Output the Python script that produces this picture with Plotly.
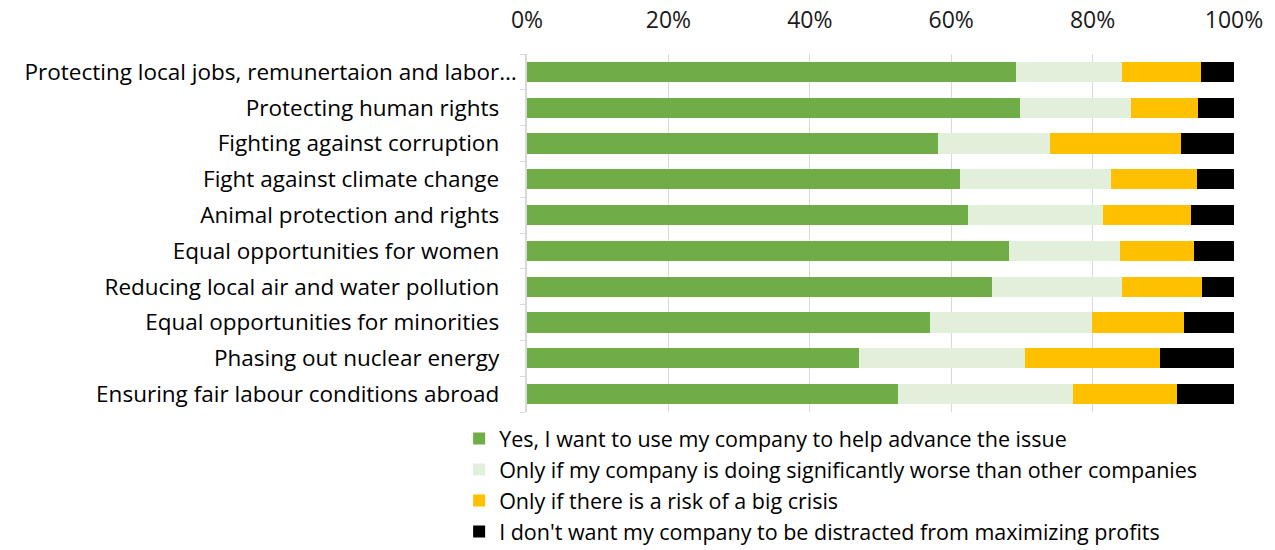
import plotly.graph_objects as go

categories = [
    "Protecting local jobs, remunertaion and labor…",
    "Protecting human rights",
    "Fighting against corruption",
    "Fight against climate change",
    "Animal protection and rights",
    "Equal opportunities for women",
    "Reducing local air and water pollution",
    "Equal opportunities for minorities",
    "Phasing out nuclear energy",
    "Ensuring fair labour conditions abroad",
]

yes_advance = [69.1, 69.7, 58.1, 61.2, 62.4, 68.2, 65.8, 57.0, 47.0, 52.5]
only_worse = [15.1, 15.8, 15.9, 21.4, 19.1, 15.7, 18.3, 22.9, 23.5, 24.7]
only_crisis = [11.2, 9.4, 18.5, 12.2, 12.4, 10.4, 11.4, 13.0, 19.1, 14.8]
no_distract = [4.6, 5.1, 7.5, 5.2, 6.1, 5.7, 4.5, 7.1, 10.4, 8.0]

series = [
    ("Yes, I want to use my company to help advance the issue", yes_advance, "#70AD47"),
    ("Only if my company is doing significantly worse than other companies", only_worse, "#E2EFDA"),
    ("Only if there is a risk of a big crisis", only_crisis, "#FFC000"),
    ("I don't want my company to be distracted from maximizing profits", no_distract, "#000000"),
]

tick_vals = [0, 20, 40, 60, 80, 100]
tick_text = ["0%", "20%", "40%", "60%", "80%", "100%"]

# truncated first label sits closer to the axis, like the original
cat_ticktext = [c if c.endswith("…") else c + "\u00a0\u00a0\u00a0" for c in categories]

fig = go.Figure()
for name, vals, color in series:
    fig.add_trace(go.Bar(
        y=categories, x=vals, name=name, orientation="h",
        marker=dict(color=color, line=dict(width=0)),
    ))

FONT = "Open Sans, Noto Sans, sans-serif"
fig.update_layout(
    barmode="stack",
    bargap=0.44,
    width=1275, height=550,
    margin=dict(l=527, r=41, t=54, b=138, autoexpand=False),
    plot_bgcolor="white", paper_bgcolor="white",
    font=dict(family=FONT, size=22, color="#000000"),
    xaxis=dict(
        range=[0, 100], side="top", tickvals=tick_vals, ticktext=tick_text,
        showgrid=True, gridcolor="#D9D9D9", gridwidth=1.3, zeroline=False,
        showline=False, ticks="", tickfont=dict(size=23, family=FONT, color="#1a1a1a"),
        automargin=False, ticklabelstandoff=20,
    ),
    yaxis=dict(
        categoryorder="array", categoryarray=categories, autorange="reversed",
        tickmode="array", tickvals=categories, ticktext=cat_ticktext,
        showline=True, linecolor="#D9D9D9", linewidth=1.5,
        ticks="outside", ticklen=5, tickcolor="#D9D9D9", tickson="boundaries",
        tickfont=dict(size=22.5, family=FONT), ticklabelstandoff=4,
        automargin=False,
    ),
    legend=dict(
        orientation="v", x=-0.096, xanchor="left", y=-0.017, yanchor="top",
        traceorder="normal", font=dict(size=21.5, family=FONT),
        tracegroupgap=0, bgcolor="rgba(0,0,0,0)",
    ),
    showlegend=True,
)

fig.write_html(
    "out.html",
    config={"displayModeBar": False},
    post_script="document.body.style.margin='0';document.body.style.padding='0';",
)
